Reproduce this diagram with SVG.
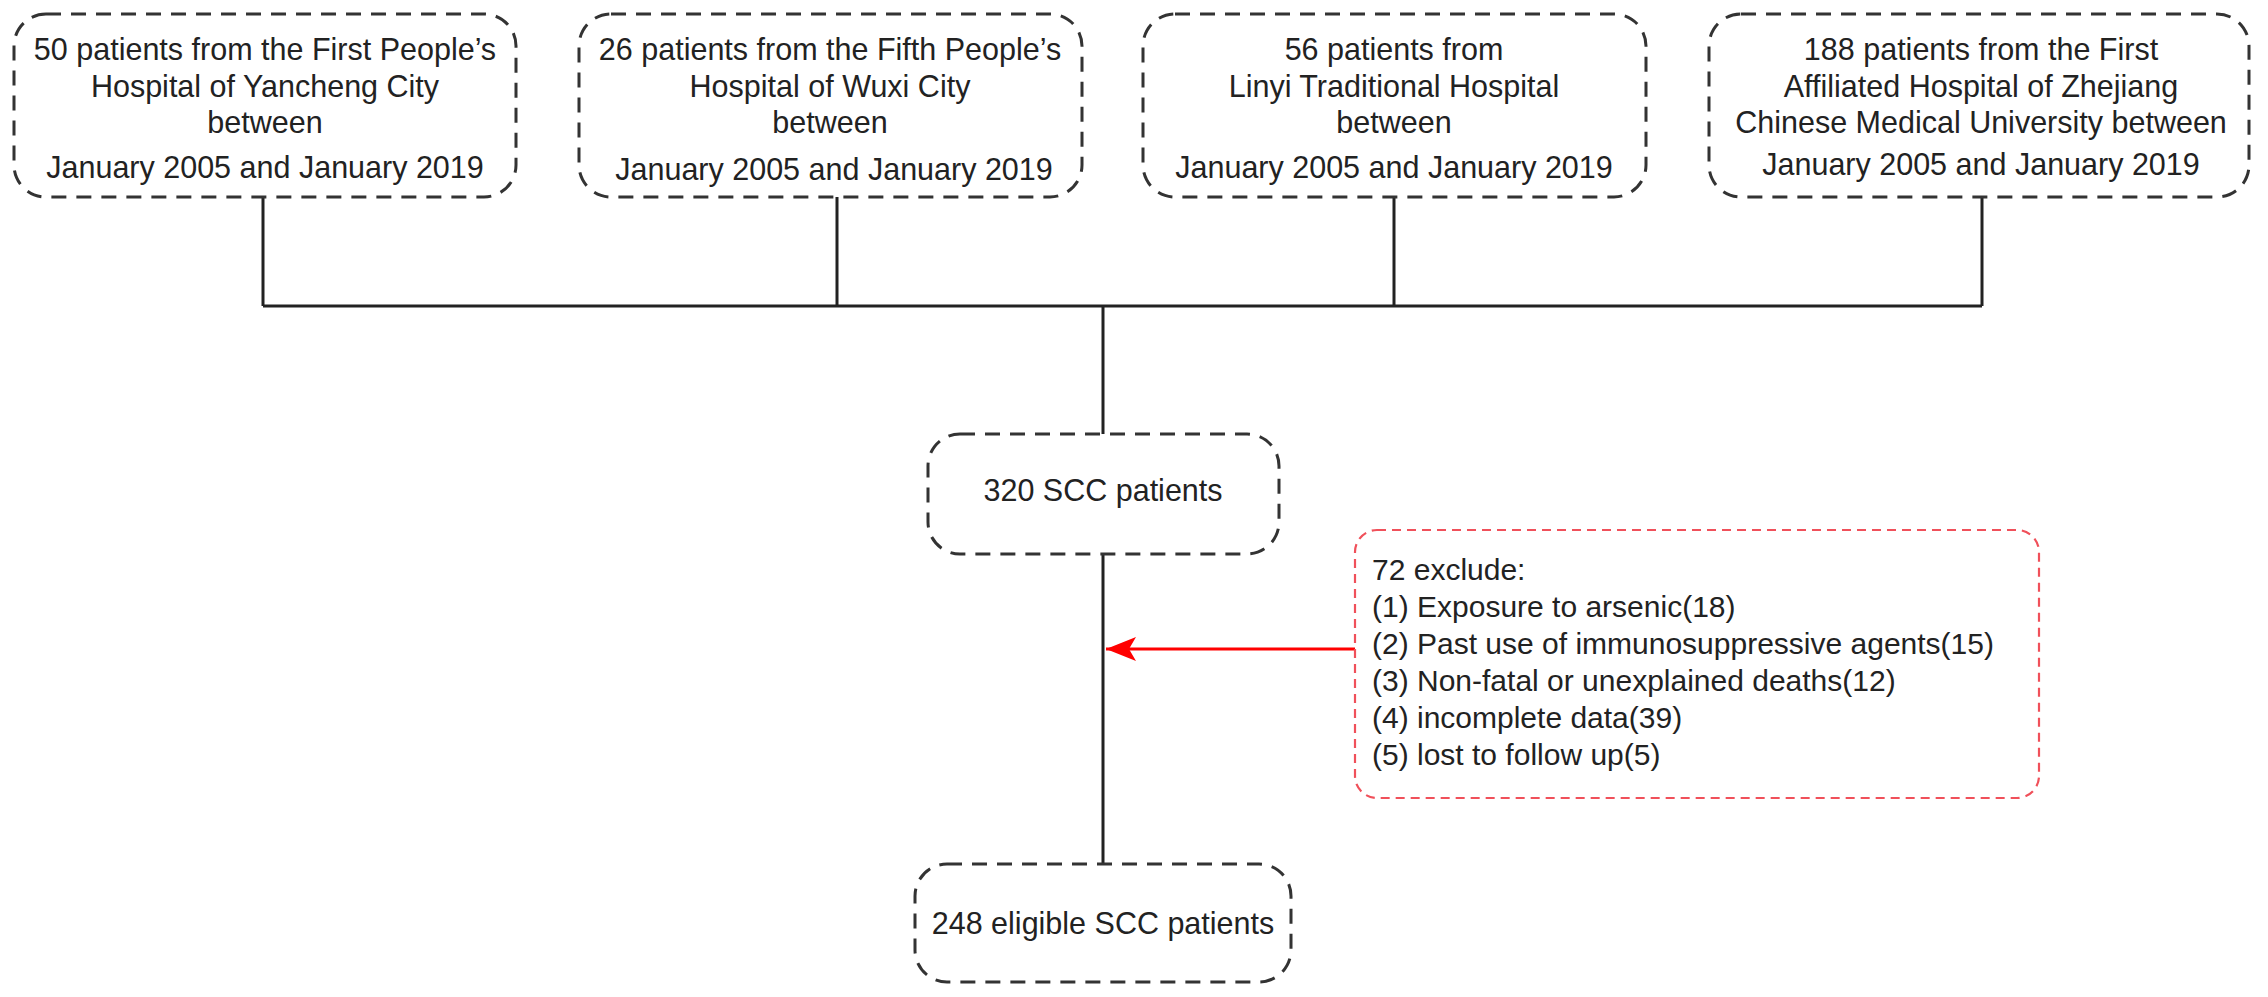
<svg xmlns="http://www.w3.org/2000/svg" width="2268" height="997" viewBox="0 0 2268 997">
<defs>
<style>
.box{fill:#fff;stroke:#333;stroke-width:3;stroke-dasharray:15 10}
.rbox{fill:#fff;stroke:#f0505a;stroke-width:2.2;stroke-dasharray:9 6}
.t{font-family:"Liberation Sans",Arial,sans-serif;font-size:30.5px;fill:#222;text-anchor:middle}
.tl{font-family:"Liberation Sans",Arial,sans-serif;font-size:30px;fill:#222}
.ln{fill:none;stroke:#222;stroke-width:3}
.red{fill:none;stroke:#f00;stroke-width:3}
</style>
<marker id="ah" viewBox="0 0 30 24" refX="30" refY="12" markerWidth="30" markerHeight="24" markerUnits="userSpaceOnUse" orient="auto">
<path d="M0,0 L30,12 L0,24 L7,12 Z" fill="#f00"/>
</marker>
</defs>
<rect width="2268" height="997" fill="#fff"/>
<g id="connectors">
<path class="ln" d="M263,197 V306 M837,197 V306 M1394,197 V306 M1982,197 V306 M263,306 H1982 M1103,306 V434 M1103,554 V864"/>
<path class="red" d="M1355,649 H1106" marker-end="url(#ah)"/>
</g>
<g id="n1">
<rect class="box" x="14" y="14" width="502" height="183" rx="32"/>
<text class="t" x="265" y="60">50 patients from the First People’s</text>
<text class="t" x="265" y="97">Hospital of Yancheng City</text>
<text class="t" x="265" y="133">between</text>
<text class="t" x="265" y="178">January 2005 and January 2019</text>
</g>
<g id="n2">
<rect class="box" x="579" y="14" width="503" height="183" rx="32"/>
<text class="t" x="830" y="60">26 patients from the Fifth People’s</text>
<text class="t" x="830" y="97">Hospital of Wuxi City</text>
<text class="t" x="830" y="133">between</text>
<text class="t" x="834" y="180">January 2005 and January 2019</text>
</g>
<g id="n3">
<rect class="box" x="1143" y="14" width="503" height="183" rx="32"/>
<text class="t" x="1394" y="60">56 patients from</text>
<text class="t" x="1394" y="97">Linyi Traditional Hospital</text>
<text class="t" x="1394" y="133">between</text>
<text class="t" x="1394" y="178">January 2005 and January 2019</text>
</g>
<g id="n4">
<rect class="box" x="1709" y="14" width="540" height="183" rx="32"/>
<text class="t" x="1981" y="60">188 patients from the First</text>
<text class="t" x="1981" y="97">Affiliated Hospital of Zhejiang</text>
<text class="t" x="1981" y="133">Chinese Medical University between</text>
<text class="t" x="1981" y="175">January 2005 and January 2019</text>
</g>
<g id="n5">
<rect class="box" x="928" y="434" width="351" height="120" rx="32"/>
<text class="t" x="1103" y="501">320 SCC patients</text>
</g>
<g id="n6">
<rect class="rbox" x="1355" y="530" width="684" height="268" rx="22"/>
<text class="tl" x="1372" y="580">72 exclude:</text>
<text class="tl" x="1372" y="617">(1) Exposure to arsenic(18)</text>
<text class="tl" x="1372" y="654">(2) Past use of immunosuppressive agents(15)</text>
<text class="tl" x="1372" y="691">(3) Non-fatal or unexplained deaths(12)</text>
<text class="tl" x="1372" y="728">(4) incomplete data(39)</text>
<text class="tl" x="1372" y="765">(5) lost to follow up(5)</text>
</g>
<g id="n7">
<rect class="box" x="915" y="864" width="376" height="118" rx="32"/>
<text class="t" x="1103" y="934">248 eligible SCC patients</text>
</g>
</svg>
